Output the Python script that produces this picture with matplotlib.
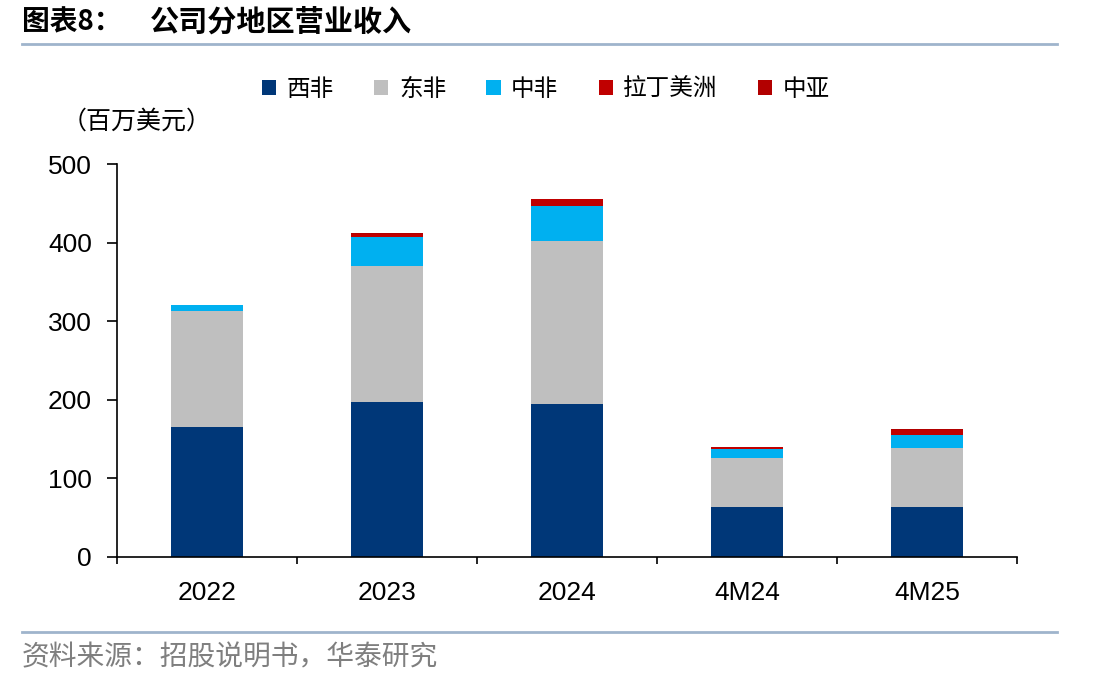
import matplotlib.pyplot as plt
import numpy as np

plt.rcParams['font.family'] = ['Noto Sans CJK SC', 'DejaVu Sans']

# data (百万美元)
periods = ['2022', '2023', '2024', '4M24', '4M25']
west_africa = [165, 197, 195, 64, 64]
east_africa = [148, 173, 207, 62, 75]
central_africa = [7, 37, 44, 11, 16]
latin_america = [0, 4, 9, 2.5, 7]
central_asia = [0.5, 1, 1, 0.5, 1]

series = [
    ('西非', west_africa, '#003778'),
    ('东非', east_africa, '#bfbfbf'),
    ('中非', central_africa, '#00b0f0'),
    ('拉丁美洲', latin_america, '#c00000'),
    ('中亚', central_asia, '#b20000'),
]

num_font = ['Liberation Sans', 'DejaVu Sans']

fig = plt.figure(figsize=(11.15, 6.86), dpi=100)
ax = fig.add_axes([117 / 1115, 129 / 686, 900 / 1115, 393 / 686])

x = np.arange(len(periods))
bottom = np.zeros(len(periods))
handles = []
for name, vals, color in series:
    vals = np.array(vals, dtype=float)
    b = ax.bar(x, vals, width=0.4, bottom=bottom, color=color, label=name)
    handles.append(b)
    bottom += vals

ax.set_xlim(-0.5, len(periods) - 0.5)
ax.set_ylim(0, 500)
ax.set_yticks(range(0, 501, 100))
ax.set_xticks(x)
ax.set_xticklabels(periods, family=num_font, fontsize=19)
for lbl in ax.get_yticklabels():
    lbl.set_family(num_font)
    lbl.set_fontsize(19)

# category boundary ticks on the x axis
ax.set_xticks(np.arange(-0.5, len(periods), 1), minor=True)
ax.tick_params(axis='x', which='major', length=0, pad=17)
ax.tick_params(axis='x', which='minor', length=5, direction='out', width=1.2)
ax.tick_params(axis='y', length=7, direction='out', width=1.2, pad=11)

for side in ['top', 'right']:
    ax.spines[side].set_visible(False)
ax.spines['left'].set_linewidth(1.2)
ax.spines['bottom'].set_linewidth(1.2)

ax.legend(handles=handles, loc='center', bbox_to_anchor=(546 / 1115, 1 - 89 / 686),
          bbox_transform=fig.transFigure, ncol=5, frameon=False, fontsize=17,
          handlelength=0.6, handleheight=0.6, handletextpad=0.45, columnspacing=1.7)

# titles, unit and source
fig.text(22 / 1115, 1 - 22 / 686, '图表8：', fontsize=20, fontweight='bold',
         va='center', ha='left')
fig.text(150 / 1115, 1 - 22 / 686, '公司分地区营业收入', fontsize=21, fontweight='bold',
         va='center', ha='left')
fig.text(62 / 1115, 1 - 122 / 686, '（百万美元）', fontsize=18, va='center', ha='left')
fig.text(22 / 1115, 1 - 657 / 686, '资料来源：招股说明书，华泰研究', fontsize=20, color='#7f7f7f',
         va='center', ha='left')
fig.add_artist(plt.Line2D([22 / 1115, 1057 / 1115], [1 - 44 / 686, 1 - 44 / 686],
                          color='#9fb4cc', lw=2))
fig.add_artist(plt.Line2D([22 / 1115, 1057 / 1115], [1 - 632 / 686, 1 - 632 / 686],
                          color='#9fb4cc', lw=2))

fig.savefig('out.png', dpi=100)
